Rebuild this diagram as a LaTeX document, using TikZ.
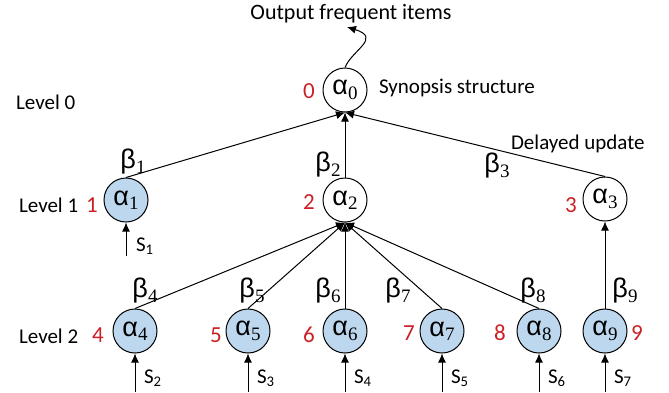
\documentclass[tikz,border=0pt]{standalone}
\usepackage{fontspec}
\setmainfont{Carlito}
\newfontfamily\greekfont{Liberation Sans}
\newfontfamily\subfont{Liberation Serif}
\usetikzlibrary{arrows.meta}

\definecolor{nodeblue}{RGB}{189,215,238}
\definecolor{numred}{RGB}{204,32,39}

% upright Greek letter with a serif subscript
\newcommand{\grk}[2]{{\greekfont\fontsize{13.5}{14}\selectfont #1}\raisebox{-2.2pt}{\subfont\fontsize{9.5}{10}\selectfont #2}}

\begin{document}
\begin{tikzpicture}[
  x=0.5pt,
  y=-0.5pt,
  >={Latex[length=4.5pt,width=4pt]},
  font=\fontsize{10.5}{13}\selectfont,
  synopsis/.style={circle, draw, line width=0.5pt, minimum size=22pt, inner sep=0pt, fill=white},
  window/.style={synopsis, fill=nodeblue},
  idx/.style={text=numred, font=\fontsize{11.5}{13}\selectfont},
  weight/.style={inner sep=1pt},
  link/.style={->, line width=0.5pt}
]
  \useasboundingbox (0,0) rectangle (669,392);

  % level 0
  \node[synopsis] (a0) at (345,90) {\grk{α}{0}};
  \node[idx] (n0) at (309,91) {0};
  \node[anchor=west] (lev0) at (9,102) {Level 0};
  \node[anchor=west] (syn) at (372,88) {Synopsis structure};
  \node[font=\fontsize{11}{13}\selectfont] (outtxt) at (351,14) {Output frequent items};
  \coordinate (out) at (347,27);
  \draw[link] (a0.north) .. controls (352,50) and (382,38) .. (out);

  % level 1
  \node[window] (a1) at (126,200) {\grk{α}{1}};
  \node[synopsis] (a2) at (345,200) {\grk{α}{2}};
  \node[synopsis] (a3) at (605,199) {\grk{α}{3}};
  \node[idx] (n1) at (92,205) {1};
  \node[idx] (n2) at (309,202) {2};
  \node[idx] (n3) at (571,205) {3};
  \node[anchor=west] (lev1) at (12,205) {Level 1};
  \node[anchor=west] (delay) at (504,144) {Delayed update};

  \draw[link] (a1.north) -- (a0.south);
  \draw[link] (a2.north) -- (a0.south);
  \draw[link] (a3.north) -- (a0.south);
  \node[weight] (b1) at (133,162) {\grk{β}{1}};
  \node[weight] (b2) at (328,165) {\grk{β}{2}};
  \node[weight] (b3) at (497,166) {\grk{β}{3}};

  \coordinate (s1) at (126,256);
  \draw[link] (s1) -- (a1.south);
  \node[anchor=west] (l1) at (129,246) {S\textsubscript{1}};

  % level 2
  \node[window] (a4) at (135,331) {\grk{α}{4}};
  \node[window] (a5) at (248,331) {\grk{α}{5}};
  \node[window] (a6) at (345,331) {\grk{α}{6}};
  \node[window] (a7) at (442,331) {\grk{α}{7}};
  \node[window] (a8) at (539,331) {\grk{α}{8}};
  \node[window] (a9) at (605,331) {\grk{α}{9}};
  \node[idx] (n4) at (98,335) {4};
  \node[idx] (n5) at (216,335) {5};
  \node[idx] (n6) at (309,335) {6};
  \node[idx] (n7) at (409,333) {7};
  \node[idx] (n8) at (500,333) {8};
  \node[idx] (n9) at (637,333) {9};
  \node[anchor=west] (lev2) at (12,336) {Level 2};

  \draw[link] (a4.north) -- (a2.south);
  \draw[link] (a5.north) -- (a2.south);
  \draw[link] (a6.north) -- (a2.south);
  \draw[link] (a7.north) -- (a2.south);
  \draw[link] (a8.north) -- (a2.south);
  \draw[link] (a9.north) -- (a3.south);
  \node[weight] (b4) at (145,291) {\grk{β}{4}};
  \node[weight] (b5) at (252,291) {\grk{β}{5}};
  \node[weight] (b6) at (328,291) {\grk{β}{6}};
  \node[weight] (b7) at (398,291) {\grk{β}{7}};
  \node[weight] (b8) at (533,291) {\grk{β}{8}};
  \node[weight] (b9) at (625,291) {\grk{β}{9}};

  \coordinate (s2) at (135,392);
  \coordinate (s3) at (248,392);
  \coordinate (s4) at (345,392);
  \coordinate (s5) at (442,392);
  \coordinate (s6) at (539,392);
  \coordinate (s7) at (605,392);
  \draw[link] (s2) -- (a4.south);
  \draw[link] (s3) -- (a5.south);
  \draw[link] (s4) -- (a6.south);
  \draw[link] (s5) -- (a7.south);
  \draw[link] (s6) -- (a8.south);
  \draw[link] (s7) -- (a9.south);
  \node[anchor=west] (l2) at (137,378) {S\textsubscript{2}};
  \node[anchor=west] (l3) at (250,378) {S\textsubscript{3}};
  \node[anchor=west] (l4) at (347,378) {S\textsubscript{4}};
  \node[anchor=west] (l5) at (444,378) {S\textsubscript{5}};
  \node[anchor=west] (l6) at (541,378) {S\textsubscript{6}};
  \node[anchor=west] (l7) at (607,378) {S\textsubscript{7}};
\end{tikzpicture}
\end{document}
